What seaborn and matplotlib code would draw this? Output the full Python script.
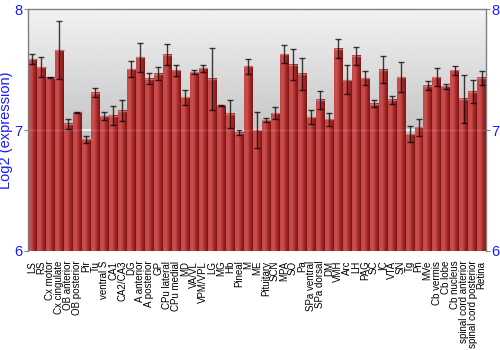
import numpy as np
import pandas as pd
import matplotlib
matplotlib.use("Agg")
import matplotlib.pyplot as plt
import seaborn as sns
from matplotlib.colors import LinearSegmentedColormap

regions = ["LS", "RS", "Cx motor", "Cx cingulate", "OB anterior", "OB posterior", "Pir", "Tu",
           "ventral S", "CA1", "CA2/CA3", "DG", "A anterior", "A posterior", "GP", "CPu lateral",
           "CPu medial", "MD", "VA/VL", "VPM/VPL", "LG", "MG", "Hb", "Pineal", "M", "ME",
           "Pituitary", "SCN", "MPA", "SO", "Pa", "SPa ventral", "SPa dorsal", "DM", "VMH", "Arc",
           "LH", "PAG", "SC", "IC", "VTA", "SN", "Tg", "Pn", "MVe", "Cb vermis", "Cb lobe",
           "Cb nucleus", "spinal cord anterior", "spinal cord posterior", "Retina"]
expression = [7.586, 7.52, 7.433, 7.66, 7.052, 7.147, 6.923, 7.307,
              7.113, 7.12, 7.16, 7.503, 7.602, 7.425, 7.466, 7.624,
              7.494, 7.27, 7.48, 7.51, 7.423, 7.205, 7.133, 6.978, 7.528, 7.0,
              7.083, 7.14, 7.627, 7.541, 7.466, 7.105, 7.249, 7.088, 7.674, 7.414,
              7.613, 7.428, 7.218, 7.5, 7.249, 7.436, 6.967, 7.022, 7.365, 7.436, 7.362,
              7.494, 7.257, 7.315, 7.431]
error = [0.043, 0.085, 0.005, 0.24, 0.043, 0.004, 0.028, 0.037,
         0.032, 0.075, 0.087, 0.066, 0.119, 0.044, 0.052, 0.09,
         0.044, 0.059, 0.014, 0.029, 0.254, 0.004, 0.119, 0.023, 0.062, 0.149,
         0.015, 0.051, 0.072, 0.13, 0.131, 0.058, 0.077, 0.052, 0.075, 0.12,
         0.077, 0.059, 0.028, 0.113, 0.036, 0.123, 0.065, 0.069, 0.037, 0.075, 0.021,
         0.039, 0.195, 0.095, 0.06]
yticks = [6, 7, 8]

df = pd.DataFrame({"region": regions, "expression": expression, "error": error})

sns.set_theme(style="white")
plt.rcParams["font.family"] = ["Liberation Sans", "DejaVu Sans"]

fig = plt.figure(figsize=(5, 3.5), dpi=100)
ax = fig.add_axes([0.056, 0.283, 0.916, 0.691])

# background gradient
bg = np.linspace(0.95, 0.60, 256).reshape(-1, 1)
ax.imshow(bg, cmap="gray", vmin=0, vmax=1, aspect="auto", extent=[0, 1, 0, 1],
          transform=ax.transAxes, zorder=0)

sns.barplot(data=df, x="region", y="expression", color="#b03030", errorbar=None,
            width=0.92, ax=ax, zorder=2, linewidth=0)
ax.set_ylim(6, 8)
ax.set_xlim(-0.5, len(regions) - 0.5)

# gradient on bars
grad = np.linspace(0, 1, 64).reshape(1, -1)
cmap = LinearSegmentedColormap.from_list("barred", ["#c44848", "#cc5050", "#a82a2a", "#7a1515"])
for p in list(ax.patches):
    x0, w = p.get_x(), p.get_width()
    top = p.get_y() + p.get_height()
    ax.imshow(grad, cmap=cmap, aspect="auto", extent=[x0, x0 + w, 6, top], zorder=2.5)
    ax.plot([x0, x0 + w], [top, top], color="#d88080", lw=1, zorder=2.6, alpha=0.8)

ax.axhline(7, color="white", lw=1.2, zorder=1, alpha=0.9)
ax.axhline(7, color="white", lw=1.0, zorder=2.7, alpha=0.15)

ax.errorbar(x=np.arange(len(regions)), y=df["expression"], yerr=df["error"], fmt="none",
            ecolor="black", elinewidth=1, capsize=2, capthick=1, alpha=0.75, zorder=3)

ax.set_xlim(-0.5, len(regions) - 0.5)
ax.set_ylim(6, 8)
ax.set_yticks(yticks)
ax.set_yticklabels([str(t) for t in yticks])
ax.tick_params(axis="y", which="both", left=True, right=True, labelleft=True, labelright=True,
               colors="#888888", labelcolor="#1a1aff", labelsize=10.5, length=3, width=0.8, pad=1)
ax.tick_params(axis="x", bottom=False, labelsize=7, labelrotation=90, pad=1)
for lab in ax.get_xticklabels():
    lab.set_color("black")
ax.set_xlabel("")
ax.set_ylabel("Log2 (expression)", color="#1a1aff", fontsize=10.5, labelpad=1)
for s in ["left", "right", "top"]:
    ax.spines[s].set_visible(True)
    ax.spines[s].set_color("#808080")
    ax.spines[s].set_linewidth(1)
ax.spines["bottom"].set_visible(False)

fig.savefig("out.png", dpi=100)
